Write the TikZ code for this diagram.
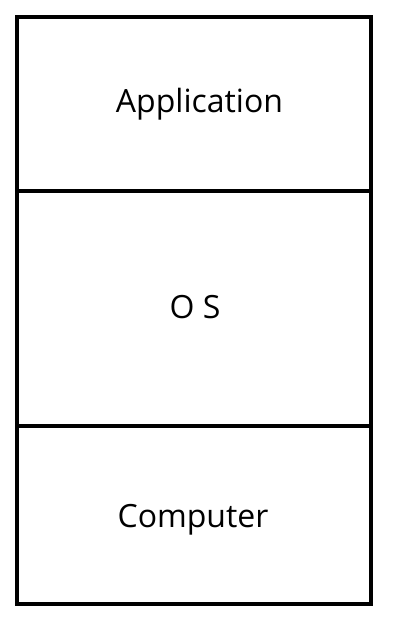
\documentclass[tikz,border=0pt]{standalone}
\usepackage{fontspec}
\setmainfont{Open Sans}
\begin{document}
\begin{tikzpicture}[x=1pt,y=-1pt,
  frame/.style={draw=black,line width=4pt},
  lbl/.style={anchor=base,inner sep=0pt,font=\fontsize{32}{38}\selectfont}]
\useasboundingbox (0,0) rectangle (404,631);
\draw[frame] (17,17) rectangle (371,604);
\draw[frame] (17,191) -- (371,191);
\draw[frame] (17,426) -- (371,426);
\node[lbl] (app) at (199.5,113) {Application};
\node[lbl] (os) at (195,318) {O S};
\node[lbl] (comp) at (193,527) {Computer};
\end{tikzpicture}
\end{document}
